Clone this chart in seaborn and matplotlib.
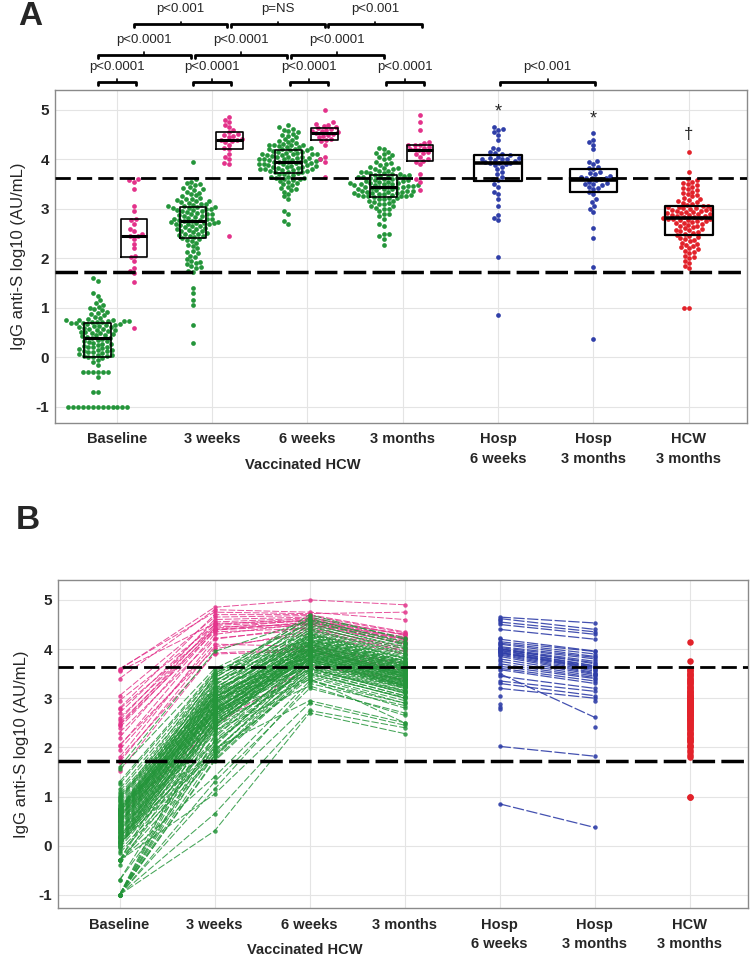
import numpy as np
import pandas as pd
import seaborn as sns
import matplotlib.pyplot as plt

#%% data (log10 AU/mL)
nan = np.nan
cat_labels = ['Baseline', '3 weeks', '6 weeks', '3 months',
              'Hosp\n6 weeks', 'Hosp\n3 months', 'HCW\n3 months']

# vaccinated HCW, seronegative at baseline (green), one value per subject
base_green = [-1.0, -1.0, -1.0, -1.0, -1.0, -1.0, -1.0, -1.0, -1.0, -1.0,
              -1.0, -1.0, -1.0, -0.7, -0.7, -0.4, -0.3, -0.3, -0.3, -0.3,
              -0.3, -0.3, -0.15, -0.1, -0.05, -0.02, 0.0, 0.0, 0.02, 0.03,
              0.05, 0.05, 0.07, 0.08, 0.1, 0.1, 0.12, 0.13, 0.15, 0.15,
              0.17, 0.18, 0.2, 0.2, 0.22, 0.24, 0.25, 0.27, 0.28, 0.3,
              0.31, 0.33, 0.34, 0.36, 0.38, 0.39, 0.4, 0.42, 0.43, 0.45,
              0.46, 0.48, 0.49, 0.5, 0.51, 0.52, 0.54, 0.55, 0.56, 0.57,
              0.58, 0.6, 0.61, 0.62, 0.63, 0.64, 0.65, 0.66, 0.67, 0.68,
              0.69, 0.7, 0.7, 0.71, 0.72, 0.72, 0.73, 0.74, 0.74, 0.75,
              0.75, 0.76, 0.78, 0.8, 0.82, 0.85, 0.88, 0.9, 0.92, 0.95,
              0.97, 1.0, 1.02, 1.05, 1.1, 1.15, 1.25, 1.3, 1.55, 1.6]
wk3_green = [0.3, 1.15, 1.72, 2.02, 2.25, 2.45, 2.6, 1.85, 2.8, 2.15,
             0.65, 1.3, 1.75, 1.9, 2.38, 2.5, 2.66, 2.95, 2.05, 1.8,
             1.05, 1.4, 1.82, 1.93, 2.2, 2.43, 2.55, 2.7, 2.86, 3.05,
             1.88, 1.95, 2.1, 2.28, 2.42, 2.52, 2.62, 2.73, 2.9, 3.1,
             1.98, 2.12, 2.32, 2.46, 2.5, 2.63, 2.74, 2.83, 3.0, 3.18,
             2.35, 2.4, 2.48, 2.58, 2.68, 2.76, 2.88, 2.97, 3.08, 3.25,
             2.53, 2.6, 2.69, 2.71, 2.77, 2.89, 3.0, 3.12, 3.2, 3.33,
             2.56, 2.65, 2.72, 2.78, 2.85, 2.92, 3.01, 3.13, 3.27, 3.4,
             2.7, 2.75, 2.8, 2.9, 2.96, 3.02, 3.15, 3.22, 3.35, 3.45,
             2.71, 2.8, 2.82, 2.93, 3.03, 3.05, 3.16, 3.3, 3.42, 3.5,
             2.98, 3.04, 3.1, 3.2, 3.38, 3.48, 3.52, 3.55, 3.6, 3.95]
wk6_green = [2.7, 3.3, 3.5, 3.85, 3.62, 3.9, 4.0, 3.45, 4.1, 3.7,
             2.75, 3.2, 3.55, 3.75, 3.95, 4.05, 4.15, 4.3, 3.8, 3.6,
             2.9, 3.35, 3.65, 3.72, 3.85, 4.0, 4.1, 4.2, 4.28, 4.4,
             3.4, 3.58, 3.68, 3.8, 3.92, 3.98, 4.05, 4.12, 4.25, 4.45,
             2.95, 3.48, 3.75, 3.88, 3.95, 4.02, 4.18, 4.22, 4.35, 4.5,
             3.25, 3.6, 3.78, 3.82, 3.9, 4.0, 4.08, 4.15, 4.3, 4.6,
             3.38, 3.7, 3.8, 3.86, 3.94, 4.03, 4.1, 4.2, 4.32, 4.55,
             3.52, 3.74, 3.83, 3.9, 3.97, 4.06, 4.13, 4.24, 4.38, 4.65,
             3.42, 3.65, 3.79, 3.88, 3.96, 4.04, 4.16, 4.26, 4.42, 4.7,
             3.56, 3.76, 3.84, 3.92, 3.99, 4.08, 4.18, 4.28, 4.48, 4.62,
             3.62, 3.77, 3.87, 3.95, 4.0, 4.1, 4.2, 4.33, 4.52, 4.58]
mo3_green = [2.28, 2.85, 3.0, 3.35, 3.15, 3.42, 3.5, 2.95, 3.6, 3.25,
             2.4, 2.7, 3.05, 3.28, 3.45, 3.52, 3.66, 3.8, 3.3, 3.1,
             2.45, 2.9, 3.2, 3.24, 3.36, 3.55, 3.62, 3.7, 3.76, 3.9,
             2.5, 3.12, 3.22, 3.32, 3.44, 3.48, 3.58, 3.64, 3.74, 4.0,
             2.5, 3.02, 3.26, 3.38, 3.46, 3.5, 3.68, 3.72, 3.85, 4.05,
             2.65, 3.14, 3.3, 3.34, 3.4, 3.5, 3.56, 3.65, 3.8, 4.15,
             2.8, 3.2, 3.27, 3.36, 3.44, 3.52, 3.6, 3.69, 3.82, 4.1,
             3.0, 3.22, 3.32, 3.4, 3.47, 3.55, 3.62, 3.72, 3.88, 4.23,
             2.9, 3.16, 3.28, 3.37, 3.45, 3.53, 3.64, 3.74, 3.92, 4.2,
             3.05, 3.25, 3.33, 3.41, 3.48, 3.57, 3.66, 3.76, 3.95, 4.12,
             3.1, 3.26, 3.35, 3.43, 3.49, 3.59, 3.7, 3.82, 4.02, 4.08]

# vaccinated HCW, seropositive at baseline (pink)
base_pink = [0.6, 1.52, 1.7, 1.75, 1.8, 1.95, 2.02, 2.05, 2.2, 2.3, 2.4, 2.45, 2.46,
             2.5, 2.55, 2.6, 2.7, 2.78, 2.8, 2.95, 3.05, 3.4, 3.55, 3.58, 3.6]
wk3_pink = [2.45, 3.92, 4.05, 3.9, 4.2, 4.1, 4.3, 4.0, 4.38, 4.22, 4.42, 4.35, 4.5,
            4.39, 4.6, 4.45, 4.55, 4.4, 4.7, 4.48, 4.65, 4.8, 4.52, 4.85, 4.75]
wk6_pink = [3.65, 4.0, 4.3, 3.95, 4.45, 4.05, 4.52, 4.37, 4.55, 4.4, 4.6, 4.42, 4.62,
            4.48, 4.65, 4.5, 4.63, 4.53, 4.7, 4.57, 4.68, 4.75, 4.58, 5.0, 4.72]
mo3_pink = [3.39, 3.55, 3.9, 3.6, 4.0, 3.7, 4.1, 3.95, 4.15, 3.97, 4.2, 4.05, 4.22,
            4.12, 4.28, 4.21, 4.3, 4.25, 4.35, 4.18, 4.33, 4.6, 4.3, 4.9, 4.75]

# hospitalised patients (blue), nan = no sample at that visit
hosp_wk6 = [0.85, 2.02, 2.78, 2.82, 2.88, 3.05, 3.2, 3.3, 3.35, 3.45,
            3.5, 3.58, 3.61, 3.65, 3.7, 3.75, 3.8, 3.85, 3.88, 3.9,
            3.92, 3.93, 3.93, 3.95, 3.97, 3.98, 4.0, 4.0, 4.01, 4.02,
            4.03, 4.05, 4.08, 4.1, 4.12, 4.15, 4.2, 4.22, 4.4, 4.5,
            4.55, 4.6, 4.62, 4.65, nan, nan, nan, nan]
hosp_mo3 = [0.37, 1.82, nan, nan, nan, nan, 3.0, 3.05, 3.14, 3.2,
            2.61, 3.3, 3.35, 3.4, 3.42, 3.45, 3.48, 3.5, 3.52, 3.55,
            3.58, 3.6, 3.62, 3.63, 3.65, 3.66, 3.7, 3.72, 3.75, nan,
            3.8, 3.83, nan, 3.85, 3.9, 3.95, 3.96, nan, 4.2, 4.3,
            4.35, nan, 4.4, 4.53, 2.41, 2.94, 3.5, 3.63]

# naturally infected HCW at 3 months (red)
hcw_mo3 = [1.0, 1.0, 1.8, 1.85, 1.9, 1.95, 2.0, 2.02, 2.05, 2.1, 2.12, 2.15, 2.18,
           2.2, 2.22, 2.25, 2.28, 2.3, 2.32, 2.35, 2.38, 2.4, 2.42, 2.44, 2.46,
           2.48, 2.5, 2.52, 2.54, 2.55, 2.57, 2.58, 2.6, 2.62, 2.63, 2.65, 2.66, 2.68,
           2.7, 2.71, 2.72, 2.74, 2.75, 2.76, 2.77, 2.78, 2.79, 2.8, 2.8, 2.81,
           2.82, 2.83, 2.84, 2.85, 2.86, 2.87, 2.88, 2.89, 2.9, 2.91, 2.92, 2.93, 2.94,
           2.95, 2.96, 2.97, 2.98, 2.99, 3.0, 3.01, 3.02, 3.03, 3.04, 3.05, 3.06,
           3.08, 3.1, 3.12, 3.14, 3.15, 3.18, 3.2, 3.22, 3.25, 3.28, 3.3, 3.32, 3.35,
           3.38, 3.4, 3.42, 3.45, 3.48, 3.5, 3.52, 3.55, 3.58, 3.6, 3.75, 4.15]

cutoffs = [3.63, 1.72]

# significance brackets: (x1, x2, label), in category units
brk_low = [(-0.2, 0.2, 'p<0.0001'), (0.8, 1.2, 'p<0.0001'), (1.82, 2.22, 'p<0.0001'),
           (2.82, 3.22, 'p<0.0001'), (4.02, 5.02, 'p<0.001')]
brk_mid = [(-0.2, 0.78, 'p<0.0001'), (0.82, 1.79, 'p<0.0001'), (1.83, 2.8, 'p<0.0001')]
brk_top = [(0.18, 1.16, 'p<0.001'), (1.2, 2.18, 'p=NS'), (2.22, 3.2, 'p<0.001')]

GREEN = '#24953a'
PINK = '#e3328a'
BLUE = '#2f3ea8'
RED = '#e2222a'


#%% long tables
def to_long(series, times, offset=0.0):
    rows = []
    for t, vals in zip(times, series):
        for sid, v in enumerate(vals):
            rows.append({'subject': sid, 'time': t, 'pos': t + offset, 'value': v})
    return pd.DataFrame(rows).dropna()


green_df = to_long([base_green, wk3_green, wk6_green, mo3_green], [0, 1, 2, 3], -0.2)
pink_df = to_long([base_pink, wk3_pink, wk6_pink, mo3_pink], [0, 1, 2, 3], 0.18)
blue_df = to_long([hosp_wk6, hosp_mo3], [4, 5])
red_df = to_long([hcw_mo3], [6])

sns.set_theme(style='whitegrid', rc={'grid.color': '#e4e4e4', 'grid.linewidth': 0.8,
                                     'axes.edgecolor': '#8a8a8a', 'axes.linewidth': 1.0})
plt.rcParams['font.family'] = ['Liberation Sans', 'DejaVu Sans']


def style_axes(ax, ylim):
    ax.set_xlim(-0.65, 6.61)
    ax.set_ylim(*ylim)
    ax.set_xticks(range(7))
    ax.set_xticklabels(cat_labels, fontsize=10.5, fontweight='bold', linespacing=1.5)
    ax.set_yticks(range(-1, 6))
    ax.set_yticklabels([str(v) for v in range(-1, 6)], fontsize=11, fontweight='bold')
    ax.tick_params(axis='both', length=0, pad=7)
    ax.tick_params(axis='y', pad=4)
    ax.set_xlabel('')
    ax.set_ylabel('IgG anti-S log10 (AU/mL)', fontsize=12, labelpad=7)
    ax.grid(True, color='#e4e4e4', lw=0.8)
    ax.set_axisbelow(True)
    ax.axhline(cutoffs[0], color='black', lw=2.0, dashes=(5.5, 2.2), zorder=5)
    ax.axhline(cutoffs[1], color='black', lw=2.5, dashes=(6.5, 1.8), zorder=5)
    ax.text(1.95, -0.128, 'Vaccinated HCW', transform=ax.get_xaxis_transform(),
            ha='center', va='center', fontsize=10.5, fontweight='bold')


def brackets(ax, rows, y):
    trans = ax.get_xaxis_transform()
    for x1, x2, lab in rows:
        xm = (x1 + x2) / 2
        ax.plot([x1, x1, x2, x2], [y - 0.01, y, y, y - 0.01], color='black', lw=2,
                transform=trans, clip_on=False)
        ax.plot([xm, xm], [y, y + 0.008], color='black', lw=1.2, transform=trans,
                clip_on=False)
        ax.text(xm, y + 0.045, lab, transform=trans, ha='center', va='center',
                fontsize=9.5)


fig = plt.figure(figsize=(7.5, 9.63), dpi=100)

#%% panel A
axA = fig.add_axes([0.073, 0.561, 0.923, 0.3455])
for d, col in [(green_df, GREEN), (pink_df, PINK), (blue_df, BLUE), (red_df, RED)]:
    sns.swarmplot(data=d, x='pos', y='value', native_scale=True, orient='x',
                  color=col, size=3.4, linewidth=0, ax=axA, zorder=2, warn_thresh=1)
box_kw = dict(fill=False, color='black', whis=0, showcaps=False, showfliers=False,
              whiskerprops={'linewidth': 0}, orient='x', native_scale=True, ax=axA)
for d in [green_df, pink_df]:
    sns.boxplot(data=d, x='pos', y='value', width=0.28,
                boxprops={'linewidth': 1.2, 'zorder': 3},
                medianprops={'linewidth': 2.2, 'zorder': 4}, **box_kw)
sns.boxplot(data=blue_df, x='pos', y='value', width=0.5,
            boxprops={'linewidth': 1.6, 'zorder': 3},
            medianprops={'linewidth': 2.6, 'zorder': 4}, **box_kw)
sns.boxplot(data=red_df, x='pos', y='value', width=0.5,
            boxprops={'linewidth': 1.6, 'zorder': 3},
            medianprops={'linewidth': 2.6, 'zorder': 4}, **box_kw)
style_axes(axA, (-1.32, 5.4))
axA.text(4, 4.95, '*', ha='center', va='center', fontsize=13)
axA.text(5, 4.82, '*', ha='center', va='center', fontsize=13)
axA.text(6, 4.5, '\u2020', ha='center', va='center', fontsize=12)
brackets(axA, brk_low, 1.024)
brackets(axA, brk_mid, 1.105)
brackets(axA, brk_top, 1.198)
fig.text(0.04, 0.983, 'A', fontsize=24, fontweight='bold', ha='center', va='center')

#%% panel B
axB = fig.add_axes([0.077, 0.057, 0.92, 0.341])
line_kw = dict(x='time', y='value', units='subject', estimator=None, legend=False,
               marker='o', markersize=3.2, markeredgewidth=0, ax=axB)
sns.lineplot(data=pink_df, color=PINK, lw=0.7, linestyle=(0, (7, 2)), alpha=0.85, **line_kw)
sns.lineplot(data=green_df, color=GREEN, lw=0.75, linestyle=(0, (7, 2)), alpha=0.85, **line_kw)
sns.lineplot(data=blue_df, color=BLUE, lw=0.9, linestyle=(0, (9, 2)), alpha=0.9, **line_kw)
sns.scatterplot(data=red_df, x='time', y='value', color=RED, s=22, linewidth=0,
                legend=False, ax=axB, zorder=3)
style_axes(axB, (-1.27, 5.41))
fig.text(0.037, 0.459, 'B', fontsize=24, fontweight='bold', ha='center', va='center')

fig.savefig('out.png', dpi=100)
